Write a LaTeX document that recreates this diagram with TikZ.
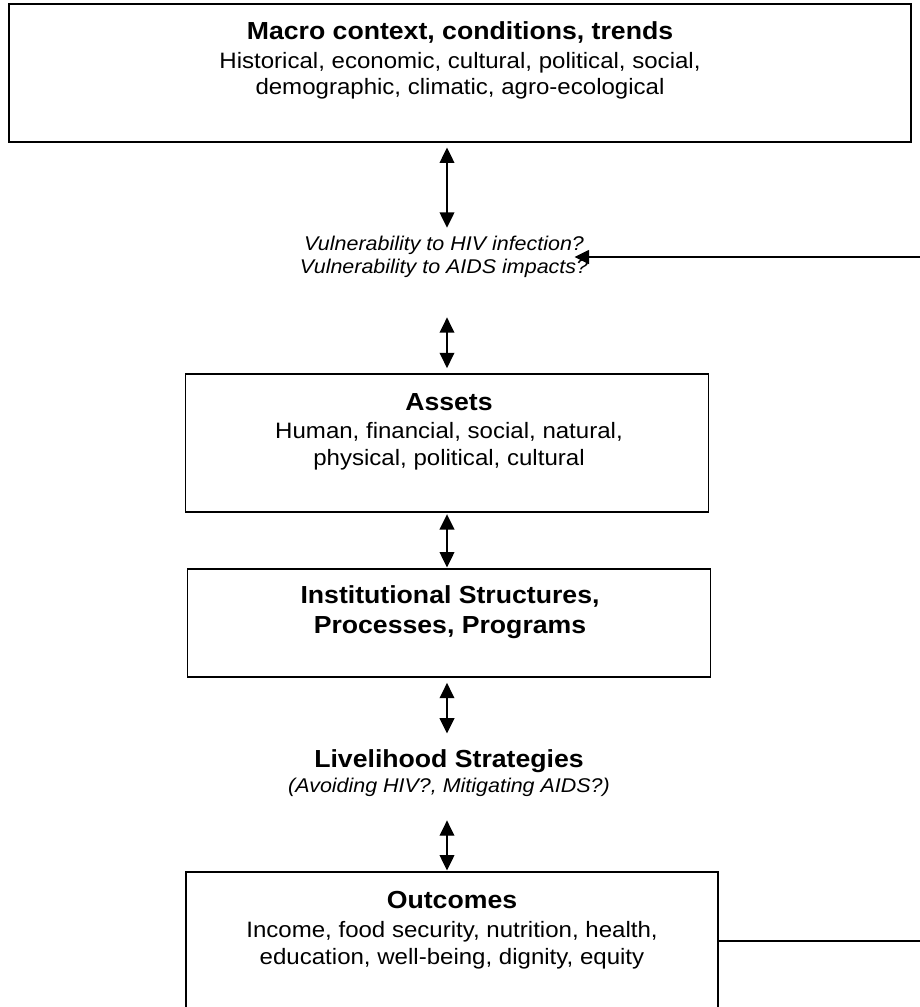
\documentclass[tikz,border=0pt]{standalone}
\usepackage{fontspec}
\setmainfont{Liberation Sans}[FakeStretch=1.08]
\usetikzlibrary{arrows.meta}
\begin{document}
\begin{tikzpicture}[x=0.75pt,y=-0.75pt,
  box/.style={draw, line width=1.3pt, inner sep=0pt},
  ttl/.style={anchor=base, inner sep=0pt, font=\fontsize{18.5}{22}\selectfont\bfseries},
  txt/.style={anchor=base, inner sep=0pt, font=\fontsize{16.7}{20}\selectfont},
  itx/.style={anchor=base, inner sep=0pt, font=\fontsize{14.9}{18}\selectfont\itshape},
  dbl/.style={line width=1.1pt, {Triangle[length=11.5pt,width=11pt]}-{Triangle[length=11.5pt,width=11pt]}},
  one/.style={line width=1.1pt, -{Triangle[length=11pt,width=10.5pt]}},
  wire/.style={line width=1.1pt}
]
\useasboundingbox (0,0) rectangle (920,1007);
\path[clip] (0,0) rectangle (920,1007);

% boxes
\node[box, minimum width=676.5pt, minimum height=103.5pt] (macro) at (460,73) {};
\node[box, minimum width=392.25pt, minimum height=103.5pt] (assets) at (447,443) {};
\node[box, minimum width=392.25pt, minimum height=81pt] (inst) at (449,623) {};
\node[box, minimum width=399pt, minimum height=126pt] (outcomes) at (452,956) {};

% texts
\node[ttl] (m1) at (460,39) {Macro context, conditions, trends};
\node[txt] (m2) at (460,68) {Historical, economic, cultural, political, social,};
\node[txt] (m3) at (460,94) {demographic, climatic, agro-ecological};

\node[itx] (v1) at (444,250) {Vulnerability to HIV infection?};
\node[itx] (v2) at (444,273) {Vulnerability to AIDS impacts?};

\node[ttl] (a1) at (449,410) {Assets};
\node[txt] (a2) at (449,438) {Human, financial, social, natural,};
\node[txt] (a3) at (449,465) {physical, political, cultural};

\node[ttl] (i1) at (450,603) {Institutional Structures,};
\node[ttl] (i2) at (450,633) {Processes, Programs};

\node[ttl] (l1) at (449,767) {Livelihood Strategies};
\node[itx] (l2) at (449,792) {(Avoiding HIV?, Mitigating AIDS?)};

\node[ttl] (o1) at (452,908) {Outcomes};
\node[txt] (o2) at (452,937) {Income, food security, nutrition, health,};
\node[txt] (o3) at (452,964) {education, well-being, dignity, equity};

% vertical double arrows
\draw[dbl, shorten <=3.5pt, shorten >=5.7pt] (assets.north |- macro.south) -- (assets.north |- v1.north);
\draw[dbl, shorten <=30pt, shorten >=3.75pt] (assets.north |- v2.south) -- (assets.north);
\draw[dbl, shorten <=1pt, shorten >=0.5pt] (assets.south) -- (assets.south |- inst.north);
\draw[dbl, shorten <=3.75pt, shorten >=11.5pt] (assets.south |- inst.south) -- (assets.south |- l1.north);
\draw[dbl, shorten <=18pt, shorten >=0.5pt] (assets.south |- l2.south) -- (assets.south |- outcomes.north);

% feedback lines on the right
\coordinate (rA) at (920,941);
\coordinate (rB) at (920,257);
\draw[wire] (outcomes.east |- rA) -- (rA);
\draw[one, shorten >=-7.3pt] (rB) -- (v1.east |- rB);
\end{tikzpicture}
\end{document}
